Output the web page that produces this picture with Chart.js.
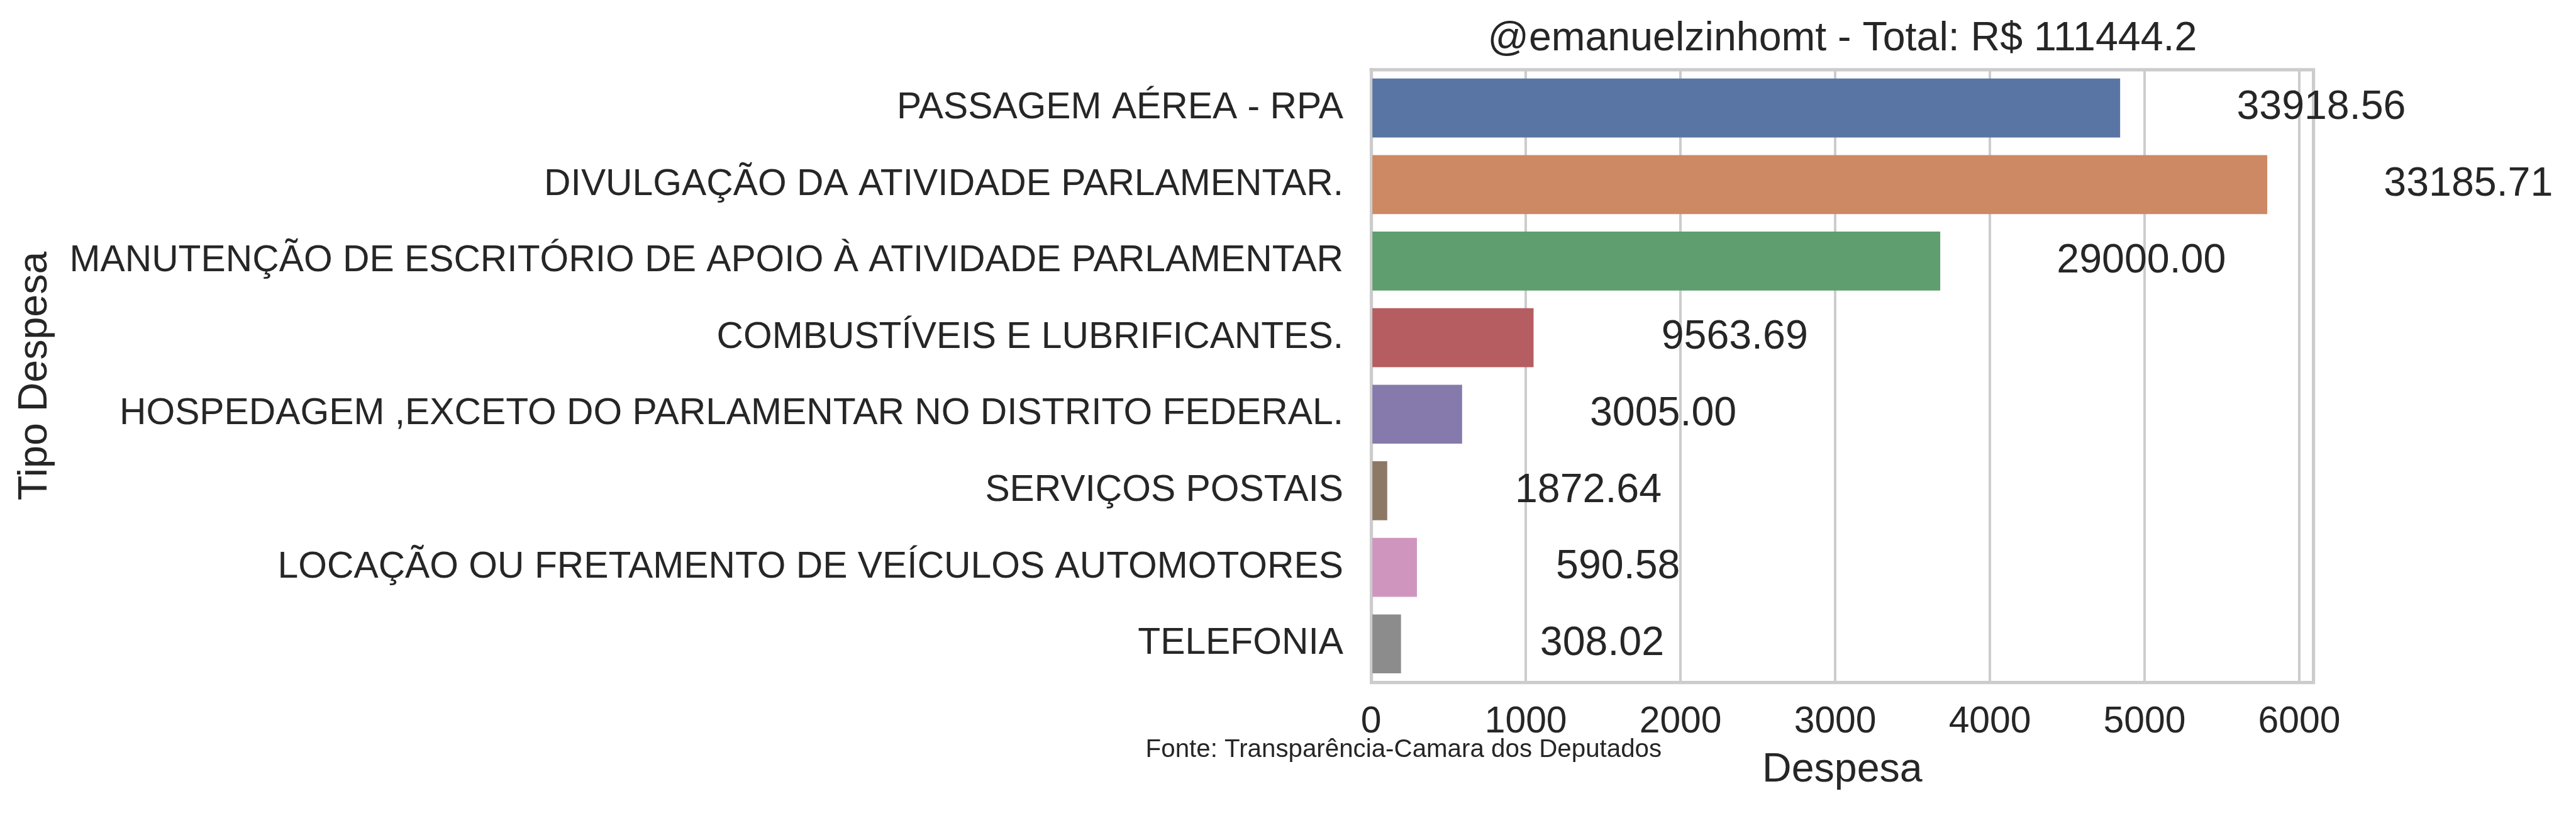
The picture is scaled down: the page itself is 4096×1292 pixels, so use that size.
<!DOCTYPE html>
<html>
<head>
<meta charset="utf-8">
<script src="https://cdn.jsdelivr.net/npm/chart.js@4/dist/chart.umd.min.js"></script>
<style>
  html, body { margin: 0; padding: 0; background: #ffffff; }
  canvas { display: block; }
</style>
</head>
<body>
<canvas id="despesas-chart" width="4096" height="1292"></canvas>
<script>
/*
 * Data
 */
const categories = [
  'PASSAGEM AÉREA - RPA',
  'DIVULGAÇÃO DA ATIVIDADE PARLAMENTAR.',
  'MANUTENÇÃO DE ESCRITÓRIO DE APOIO À ATIVIDADE PARLAMENTAR',
  'COMBUSTÍVEIS E LUBRIFICANTES.',
  'HOSPEDAGEM ,EXCETO DO PARLAMENTAR NO DISTRITO FEDERAL.',
  'SERVIÇOS POSTAIS',
  'LOCAÇÃO OU FRETAMENTO DE VEÍCULOS AUTOMOTORES',
  'TELEFONIA'
]
const despesas = [4842, 5793, 3679, 1050, 588, 104, 296, 193]
const totals = ['33918.56', '33185.71', '29000.00', '9563.69', '3005.00', '1872.64', '590.58', '308.02']
const xTicks = [0, 1000, 2000, 3000, 4000, 5000, 6000]
const barColors = ['#5975a4', '#cc8963', '#5f9e6e', '#b55d60', '#857aab', '#8d7866', '#d095bf', '#8c8c8c']

const titleText = '@emanuelzinhomt - Total: R$ 111444.2'
const sourceText = 'Fonte: Transparência-Camara dos Deputados'

/*
 * Look
 */
const FONT = "'Liberation Sans', Arial, sans-serif"
const INK = '#262626'
const FRAME = '#cccccc'
const labelShift = 1300   // total labels sit this far (in data units) right of the bar end

/*
 * Frame on top/right, the total next to each bar and the source line
 */
const extras = {
	id: 'extras',
	afterDraw(chart) {
		const ctx = chart.ctx
		const area = chart.chartArea
		const x = chart.scales.x
		const y = chart.scales.y

		ctx.save()
		ctx.strokeStyle = FRAME
		ctx.lineWidth = 5.2
		ctx.lineCap = 'square'
		ctx.beginPath()
		ctx.moveTo(area.left, area.top)
		ctx.lineTo(area.right, area.top)
		ctx.lineTo(area.right, area.bottom)
		ctx.stroke()

		ctx.fillStyle = INK
		ctx.font = '64.5px ' + FONT
		ctx.textAlign = 'center'
		ctx.textBaseline = 'middle'
		despesas.forEach((v, i) => {
			ctx.fillText(totals[i], x.getPixelForValue(v + labelShift), y.getPixelForValue(i))
		})

		ctx.font = '40.3px ' + FONT
		ctx.textAlign = 'left'
		ctx.textBaseline = 'alphabetic'
		ctx.fillText(sourceText, 1821.6, 1203.4)
		ctx.restore()
	}
}

const despesasCtx = document.getElementById('despesas-chart').getContext('2d')

const despesasChart = new Chart(despesasCtx, {
	type: 'bar',
	data: {
		labels: categories,
		datasets: [{
			data: despesas,
			backgroundColor: barColors,
			borderWidth: 0,
			barPercentage: 0.77,
			categoryPercentage: 1
		}]
	},
	plugins: [extras],
	options: {
		indexAxis: 'y',
		responsive: false,
		animation: false,
		devicePixelRatio: 1,
		layout: {
			padding: { left: 0, right: 417.4, top: 0, bottom: 0 }
		},
		plugins: {
			legend: { display: false },
			tooltip: { enabled: false },
			title: {
				display: true,
				text: titleText,
				fullSize: false,
				color: INK,
				font: { family: FONT, size: 64.5, weight: 'normal' },
				padding: { top: 23.6, bottom: 9.8 }
			}
		},
		scales: {
			x: {
				type: 'linear',
				position: 'bottom',
				min: 0,
				max: 6092,
				afterFit: (scale) => { scale.height = 207.9 },
				afterBuildTicks: (scale) => { scale.ticks = xTicks.map(v => ({ value: v })) },
				ticks: {
					includeBounds: false,
					color: INK,
					padding: 28.9,
					font: { family: FONT, size: 58.8 },
					callback: (v) => String(v)
				},
				grid: { color: FRAME, lineWidth: 4, drawTicks: false },
				border: { display: true, color: FRAME, width: 5.2 },
				title: {
					display: true,
					text: 'Despesa',
					color: INK,
					font: { family: FONT, size: 64.5 },
					padding: { top: 0, bottom: 29 }
				}
			},
			y: {
				type: 'category',
				position: 'left',
				afterFit: (scale) => { scale.width = 2180.2 },
				ticks: {
					color: INK,
					padding: 44.2,
					autoSkip: false,
					font: { family: FONT, size: 58.8 }
				},
				grid: { display: false, drawTicks: false },
				border: { display: true, color: FRAME, width: 5.2 },
				title: {
					display: true,
					text: 'Tipo Despesa',
					color: INK,
					font: { family: FONT, size: 64.5 },
					padding: { top: 17.2, bottom: 0 }
				}
			}
		}
	}
})
</script>
</body>
</html>
